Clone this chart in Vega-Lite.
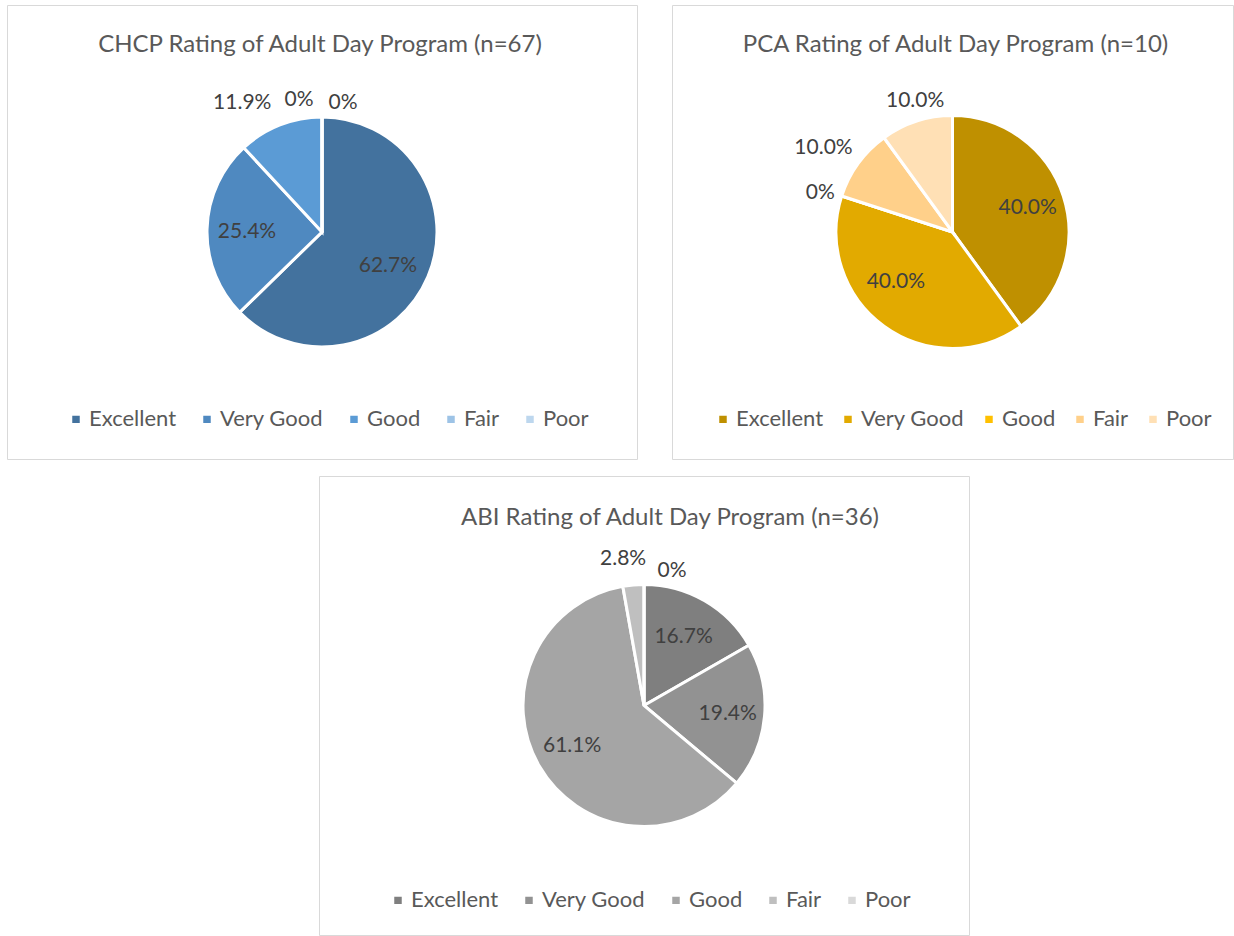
{
  "$schema": "https://vega.github.io/schema/vega-lite/v6.json",
  "padding": {"left": 6, "top": 4, "right": 0, "bottom": 0},
  "background": "white",
  "spacing": 15,
  "resolve": {"scale": {"color": "independent"}, "legend": {"color": "independent"}},
  "config": {
    "font": "Lato",
    "view": {"stroke": "#D9D9D9", "strokeWidth": 1},
    "arc": {"stroke": "white", "strokeWidth": 3},
    "text": {"fontSize": 21, "color": "#404040", "font": "Lato"},
    "title": {"fontSize": 24, "fontWeight": "normal", "color": "#595959", "font": "Lato", "anchor": "middle", "frame": "group"},
    "legend": {"orient": "none", "direction": "horizontal", "title": null, "labelFont": "Lato", "labelFontSize": 22, "labelColor": "#595959", "symbolType": "square", "symbolSize": 110, "symbolStrokeWidth": 0, "columnPadding": 18, "labelOffset": 2}
  },
  "vconcat": [
    {
      "hconcat": [
        {
          "width": 630, "height": 454,
          "view": {"stroke": "#D9D9D9", "strokeWidth": 1},
          "title": {"text": "CHCP Rating of Adult Day Program (n=67)", "offset": -52, "dx": -2},
          "data": {"values": [
            {"rating": "Excellent", "pct": 62.7},
            {"rating": "Very Good", "pct": 25.4},
            {"rating": "Good", "pct": 11.9},
            {"rating": "Fair", "pct": 0},
            {"rating": "Poor", "pct": 0}
          ]},
          "transform": [
            {"calculate": "indexof(['Excellent','Very Good','Good','Fair','Poor'], datum.rating)", "as": "rank"},
            {"calculate": "datum.pct == 0 ? '0%' : format(datum.pct, '.1f') + '%'", "as": "label"}
          ],
          "encoding": {
            "theta": {"field": "pct", "type": "quantitative", "stack": true},
            "order": {"field": "rank", "type": "quantitative"}
          },
          "layer": [
            {"mark": {"type": "arc", "outerRadius": 115},
             "encoding": {"color": {"field": "rating", "type": "nominal", "sort": ["Excellent","Very Good","Good","Fair","Poor"],
               "scale": {"domain": ["Excellent","Very Good","Good","Fair","Poor"], "range": ["#43729E","#4F89C0","#5B9BD5","#9DC3E6","#BDD7EE"]},
               "legend": {"legendX": 58, "legendY": 403}}}},
            {"mark": {"type": "text", "radius": 78, "dx": -6, "dy": 4},
             "encoding": {"detail": {"field": "rating", "type": "nominal"}, "text": {"field": "label"}, "opacity": {"condition": {"test": "datum.rating === 'Excellent'", "value": 1}, "value": 0}}},
            {"mark": {"type": "text", "radius": 75, "dx": 0, "dy": 2},
             "encoding": {"detail": {"field": "rating", "type": "nominal"}, "text": {"field": "label"}, "opacity": {"condition": {"test": "datum.rating === 'Very Good'", "value": 1}, "value": 0}}},
            {"mark": {"type": "text", "radius": 139, "dx": -29, "dy": 0},
             "encoding": {"detail": {"field": "rating", "type": "nominal"}, "text": {"field": "label"}, "opacity": {"condition": {"test": "datum.rating === 'Good'", "value": 1}, "value": 0}}},
            {"mark": {"type": "text", "radius": 132, "dx": -23, "dy": 0},
             "encoding": {"detail": {"field": "rating", "type": "nominal"}, "text": {"field": "label"}, "opacity": {"condition": {"test": "datum.rating === 'Fair'", "value": 1}, "value": 0}}},
            {"mark": {"type": "text", "radius": 129, "dx": 21, "dy": 0},
             "encoding": {"detail": {"field": "rating", "type": "nominal"}, "text": {"field": "label"}, "opacity": {"condition": {"test": "datum.rating === 'Poor'", "value": 1}, "value": 0}}}
          ]
        },
        {
          "width": 561, "height": 454,
          "view": {"stroke": "#D9D9D9", "strokeWidth": 1},
          "title": {"text": "PCA Rating of Adult Day Program (n=10)", "offset": -52, "dx": 3},
          "data": {"values": [
            {"rating": "Excellent", "pct": 40},
            {"rating": "Very Good", "pct": 40},
            {"rating": "Good", "pct": 0},
            {"rating": "Fair", "pct": 10},
            {"rating": "Poor", "pct": 10}
          ]},
          "transform": [
            {"calculate": "indexof(['Excellent','Very Good','Good','Fair','Poor'], datum.rating)", "as": "rank"},
            {"calculate": "datum.pct == 0 ? '0%' : format(datum.pct, '.1f') + '%'", "as": "label"}
          ],
          "encoding": {
            "theta": {"field": "pct", "type": "quantitative", "stack": true},
            "order": {"field": "rank", "type": "quantitative"}
          },
          "layer": [
            {"mark": {"type": "arc", "outerRadius": 116.5},
             "encoding": {"color": {"field": "rating", "type": "nominal", "sort": ["Excellent","Very Good","Good","Fair","Poor"],
               "scale": {"domain": ["Excellent","Very Good","Good","Fair","Poor"], "range": ["#BF9000","#E2AA00","#FFC000","#FFD08A","#FFE0B5"]},
               "legend": {"legendX": 40, "legendY": 403, "columnPadding": 12}}}},
            {"mark": {"type": "text", "radius": 79, "dx": 0, "dy": 0},
             "encoding": {"detail": {"field": "rating", "type": "nominal"}, "text": {"field": "label"}, "opacity": {"condition": {"test": "datum.rating === 'Excellent'", "value": 1}, "value": 0}}},
            {"mark": {"type": "text", "radius": 76, "dx": -12, "dy": -11},
             "encoding": {"detail": {"field": "rating", "type": "nominal"}, "text": {"field": "label"}, "opacity": {"condition": {"test": "datum.rating === 'Very Good'", "value": 1}, "value": 0}}},
            {"mark": {"type": "text", "radius": 139, "dx": 0, "dy": 4},
             "encoding": {"detail": {"field": "rating", "type": "nominal"}, "text": {"field": "label"}, "opacity": {"condition": {"test": "datum.rating === 'Good'", "value": 1}, "value": 0}}},
            {"mark": {"type": "text", "radius": 152, "dx": -6, "dy": 5},
             "encoding": {"detail": {"field": "rating", "type": "nominal"}, "text": {"field": "label"}, "opacity": {"condition": {"test": "datum.rating === 'Fair'", "value": 1}, "value": 0}}},
            {"mark": {"type": "text", "radius": 137, "dx": 5, "dy": -1},
             "encoding": {"detail": {"field": "rating", "type": "nominal"}, "text": {"field": "label"}, "opacity": {"condition": {"test": "datum.rating === 'Poor'", "value": 1}, "value": 0}}}
          ]
        }
      ],
      "spacing": 33,
      "resolve": {"scale": {"color": "independent"}, "legend": {"color": "independent"}}
    },
    {
      "hconcat": [
        {
          "width": 311, "height": 10,
          "data": {"values": [{"a": 1}]},
          "mark": {"type": "point", "opacity": 0},
          "encoding": {},
          "view": {"stroke": null}
        },
        {
          "width": 650, "height": 459,
          "view": {"stroke": "#D9D9D9", "strokeWidth": 1},
          "title": {"text": "ABI Rating of Adult Day Program (n=36)", "offset": -54, "dx": 26},
          "data": {"values": [
            {"rating": "Excellent", "pct": 16.7},
            {"rating": "Very Good", "pct": 19.4},
            {"rating": "Good", "pct": 61.1},
            {"rating": "Fair", "pct": 2.8},
            {"rating": "Poor", "pct": 0}
          ]},
          "transform": [
            {"calculate": "indexof(['Excellent','Very Good','Good','Fair','Poor'], datum.rating)", "as": "rank"},
            {"calculate": "datum.pct == 0 ? '0%' : format(datum.pct, '.1f') + '%'", "as": "label"}
          ],
          "encoding": {
            "theta": {"field": "pct", "type": "quantitative", "stack": true},
            "order": {"field": "rank", "type": "quantitative"}
          },
          "layer": [
            {"mark": {"type": "arc", "outerRadius": 121},
             "encoding": {"color": {"field": "rating", "type": "nominal", "sort": ["Excellent","Very Good","Good","Fair","Poor"],
               "scale": {"domain": ["Excellent","Very Good","Good","Fair","Poor"], "range": ["#7F7F7F","#929292","#A5A5A5","#BFBFBF","#D9D9D9"]},
               "legend": {"legendX": 68, "legendY": 413}}}},
            {"mark": {"type": "text", "radius": 79, "dx": 0, "dy": 0},
             "encoding": {"detail": {"field": "rating", "type": "nominal"}, "text": {"field": "label"}, "opacity": {"condition": {"test": "datum.rating === 'Excellent'", "value": 1}, "value": 0}}},
            {"mark": {"type": "text", "radius": 84, "dx": 0, "dy": 1},
             "encoding": {"detail": {"field": "rating", "type": "nominal"}, "text": {"field": "label"}, "opacity": {"condition": {"test": "datum.rating === 'Very Good'", "value": 1}, "value": 0}}},
            {"mark": {"type": "text", "radius": 83, "dx": 0, "dy": -1},
             "encoding": {"detail": {"field": "rating", "type": "nominal"}, "text": {"field": "label"}, "opacity": {"condition": {"test": "datum.rating === 'Good'", "value": 1}, "value": 0}}},
            {"mark": {"type": "text", "radius": 147, "dx": -8, "dy": 0},
             "encoding": {"detail": {"field": "rating", "type": "nominal"}, "text": {"field": "label"}, "opacity": {"condition": {"test": "datum.rating === 'Fair'", "value": 1}, "value": 0}}},
            {"mark": {"type": "text", "radius": 135, "dx": 28, "dy": 0},
             "encoding": {"detail": {"field": "rating", "type": "nominal"}, "text": {"field": "label"}, "opacity": {"condition": {"test": "datum.rating === 'Poor'", "value": 1}, "value": 0}}}
          ]
        }
      ],
      "spacing": 0,
      "resolve": {"scale": {"color": "independent"}, "legend": {"color": "independent"}}
    }
  ]
}
